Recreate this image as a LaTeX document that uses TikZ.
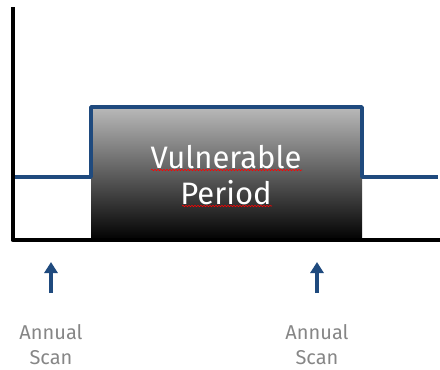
\documentclass[tikz,border=0pt]{standalone}
\usepackage{fontspec}
\setmainfont{Fira Sans}
\usetikzlibrary{arrows.meta,decorations.pathmorphing}
\definecolor{lineblue}{HTML}{1F4A7E}
\definecolor{labelgray}{HTML}{868686}
\definecolor{boxtop}{HTML}{B8B8B8}
\tikzset{
  axis/.style={line width=4pt,black,line join=round},
  level/.style={line width=3.6pt,lineblue,line join=round},
  scanarrow/.style={line width=3.8pt,lineblue,-{Triangle[width=13pt,length=11pt]}},
  scanlabel/.style={text=labelgray,font=\fontsize{20}{25}\selectfont,align=center},
  boxlabel/.style={text=white,font=\fontsize{31}{36}\selectfont,align=center},
  squiggle/.style={red,line width=0.6pt,decorate,decoration={snake,amplitude=0.7pt,segment length=3pt}}
}
\begin{document}
\begin{tikzpicture}[x=1pt,y=-1pt]
\useasboundingbox (0,0) rectangle (440,370);
% gradient box
\shade[top color=boxtop,bottom color=black] (91,108) rectangle (362,241);
% level line
\coordinate (l0) at (12,177);
\coordinate (l1) at (91,177);
\coordinate (l2) at (91,107);
\coordinate (l3) at (362,107);
\coordinate (l4) at (362,177);
\coordinate (l5) at (438,177);
\draw[level] (l0) -- (l1) -- (l2) -- (l3) -- (l4) -- (l5);
% axes
\coordinate (ytop) at (12.5,7);
\coordinate (origin) at (12.5,240);
\coordinate (xend) at (440,240);
\draw[axis] (ytop) -- (origin) -- (xend);
% box text
\node[boxlabel] (vuln) at (226,157) {Vulnerable};
\node[boxlabel] (per) at (226,193) {Period};
\draw[squiggle] (151,170) -- (302,170);
\draw[squiggle] (182,206) -- (272,206);
% scans
\coordinate (a1s) at (51,293);
\coordinate (a1e) at (51,262);
\coordinate (a2s) at (317,293);
\coordinate (a2e) at (317,262);
\draw[scanarrow] (a1s) -- (a1e);
\draw[scanarrow] (a2s) -- (a2e);
\node[scanlabel] (s1) at (51,345) {Annual\\Scan};
\node[scanlabel] (s2) at (317,345) {Annual\\Scan};
\end{tikzpicture}
\end{document}
